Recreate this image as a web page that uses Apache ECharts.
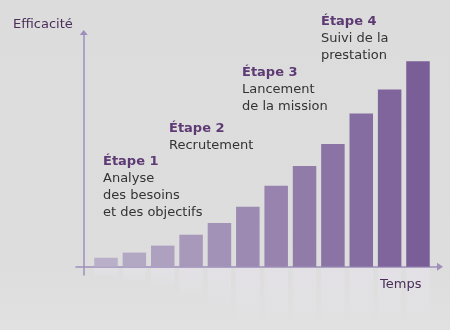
<!DOCTYPE html>
<html>
<head>
<meta charset="utf-8">
<script src="https://cdn.jsdelivr.net/npm/echarts@6/dist/echarts.min.js"></script>
<style>
  html, body { margin: 0; padding: 0; background: #dddddd; }
  #main { width: 450px; height: 330px; }
</style>
</head>
<body>
<div id="main"></div>
<script>
// données
var periodes = [1, 2, 3, 4, 5, 6, 7, 8, 9, 10, 11, 12];
var efficacite = [4.4, 6.9, 10.3, 15.6, 21.3, 29.2, 39.4, 49, 59.7, 74.6, 86.3, 100];
var etapes = ['Étape 1', 'Étape 2', 'Étape 3', 'Étape 4'];
var etapesTexte = [
    ['Analyse', 'des besoins', 'et des objectifs'],
    ['Recrutement'],
    ['Lancement', 'de la mission'],
    ['Suivi de la', 'prestation']
];
var axeY = 'Efficacité';
var axeX = 'Temps';

var chart = echarts.init(document.getElementById('main'));
var font = 'DejaVu Sans';

// couleur du clair au foncé
function couleur(i, a) {
    var c1 = [185, 175, 200], c2 = [122, 94, 152];
    var t = i / (efficacite.length - 1);
    var c = c1.map(function (v, k) { return Math.round(v + (c2[k] - v) * t); });
    return 'rgba(' + c.join(',') + ',' + a + ')';
}

var barData = efficacite.map(function (v, i) {
    return {value: [i, v], itemStyle: {color: couleur(i, 1)}};
});
// reflet sous l'axe
var refletData = efficacite.map(function (v, i) {
    return {
        value: [i, v],
        itemStyle: {
            color: new echarts.graphic.LinearGradient(0, 0, 0, 1, [
                {offset: 0, color: 'rgba(232,228,238,0.5)'},
                {offset: 1, color: 'rgba(232,228,238,0.02)'}
            ])
        }
    };
});

// textes des étapes
var posEtapes = [[103, 153], [169, 120], [242, 64], [321, 13]];
var graphics = etapes.map(function (e, i) {
    return {
        type: 'text',
        left: posEtapes[i][0],
        top: posEtapes[i][1],
        z: 100,
        style: {
            text: '{t|' + e + '}\n' + etapesTexte[i].join('\n'),
            font: '13px "' + font + '"',
            fill: '#333333',
            lineHeight: 17,
            rich: {
                t: {fontFamily: font, fontSize: 13, fontWeight: 'bold', fill: '#5e3a74', lineHeight: 17}
            }
        }
    };
});
graphics.push({
    type: 'text', left: 13, top: 18, z: 100,
    style: {text: axeY, fontFamily: font, fontSize: 13, fill: '#4a2f58'}
});
graphics.push({
    type: 'text', left: 380, top: 278, z: 100,
    style: {text: axeX, fontFamily: font, fontSize: 13, fill: '#4a2f58'}
});

var axisColor = '#9d8fba';
var option = {
    backgroundColor: new echarts.graphic.LinearGradient(0, 0, 0, 1, [
        {offset: 0, color: '#dcdcdc'},
        {offset: 0.8, color: '#dddddd'},
        {offset: 1, color: '#e1e1e1'}
    ]),
    animation: false,
    grid: [
        {left: 76, right: 10, top: 32.5, bottom: 55},
        {left: 76, right: 10, top: 268, bottom: 0}
    ],
    xAxis: [
        {
            type: 'value', gridIndex: 0, min: -1.058, max: 11.776,
            axisLine: {
                show: true, onZero: true,
                symbol: ['none', 'triangle'], symbolSize: [8, 6],
                lineStyle: {color: axisColor, width: 1.5}
            },
            axisTick: {show: false}, axisLabel: {show: false}, splitLine: {show: false}
        },
        {
            type: 'value', gridIndex: 1, min: -1.058, max: 11.776, show: false
        }
    ],
    yAxis: [
        {
            type: 'value', gridIndex: 0, min: -4, max: 114, offset: -7.7,
            axisLine: {
                show: true, onZero: false,
                symbol: ['none', 'triangle'], symbolSize: [8, 5],
                lineStyle: {color: axisColor, width: 1.5}
            },
            axisTick: {show: false}, axisLabel: {show: false}, splitLine: {show: false}
        },
        {
            type: 'value', gridIndex: 1, min: 0, max: 30.2, inverse: true, show: false
        }
    ],
    graphic: graphics,
    series: [
        {
            name: 'reflet', type: 'bar', xAxisIndex: 1, yAxisIndex: 1,
            barWidth: 23.5, data: refletData, silent: true
        },
        {
            name: axeY, type: 'bar', xAxisIndex: 0, yAxisIndex: 0,
            barWidth: 23.5, data: barData
        }
    ]
};
chart.setOption(option);
</script>
</body>
</html>
